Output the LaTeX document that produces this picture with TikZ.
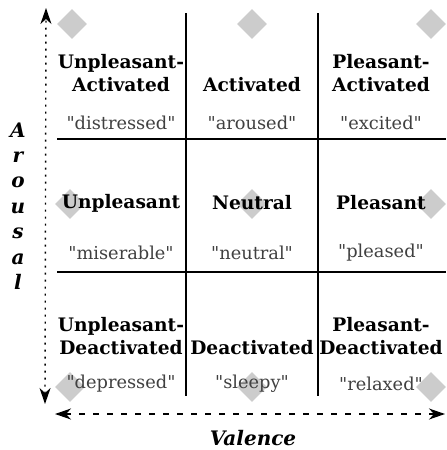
\documentclass[tikz,border=0pt]{standalone}
\usepackage{fontspec}
\setmainfont{DejaVu Serif}
\usepackage{tikz}
\usetikzlibrary{arrows.meta,shapes.geometric}
\newcommand\quoted[1]{\textquotedbl#1\textquotedbl}

\begin{document}
\begin{tikzpicture}[x=0.5pt,y=-0.5pt,>={Stealth[length=8pt,width=5.5pt,inset=2.5pt]},
  cat/.style={font=\fontsize{9.3}{11.8}\selectfont\bfseries,align=center,inner sep=0pt},
  word/.style={font=\fontsize{8.9}{10}\selectfont,text=black!75,inner sep=0pt},
  axis/.style={font=\fontsize{10}{12.7}\selectfont\bfseries\itshape,align=center,inner sep=0pt},
  dia/.style={diamond,fill=gray!40,inner sep=0pt,minimum width=15pt,minimum height=15pt},
  grid/.style={line width=0.9pt}]
  \useasboundingbox (0,0) rectangle (446,450);
  % grey markers behind the labels
  \node[dia] (d1) at (72,24) {};
  \node[dia] (d2) at (252,24) {};
  \node[dia] (d3) at (431,24) {};
  \node[dia] (d4) at (70,204) {};
  \node[dia] (d5) at (252,204) {};
  \node[dia] (d6) at (431,204) {};
  \node[dia] (d7) at (70,387) {};
  \node[dia] (d8) at (252,387) {};
  \node[dia] (d9) at (431,387) {};
  % the 3x3 grid
  \draw[grid] (186,13) -- (186,396);
  \draw[grid] (318,13) -- (318,396);
  \draw[grid] (57,139) -- (446,139);
  \draw[grid] (57,272) -- (446,272);
  % top row
  \node[cat] (ua) at (121,73) {Unpleasant-\\Activated};
  \node[word] (uaw) at (121,123) {\quoted{distressed}};
  \node[cat] (ac) at (252,85) {Activated};
  \node[word] (acw) at (252,123) {\quoted{aroused}};
  \node[cat] (pa) at (381,73) {Pleasant-\\Activated};
  \node[word] (paw) at (381,123) {\quoted{excited}};
  % middle row
  \node[cat] (un) at (121,203) {Unpleasant};
  \node[word] (unw) at (121,253) {\quoted{miserable}};
  \node[cat] (ne) at (252,203) {Neutral};
  \node[word] (new) at (252,253) {\quoted{neutral}};
  \node[cat] (pl) at (381,203) {Pleasant};
  \node[word] (plw) at (381,253) {\quoted{pleased}};
  % bottom row
  \node[cat] (ud) at (121,336) {Unpleasant-\\Deactivated};
  \node[word] (udw) at (121,384) {\quoted{depressed}};
  \node[cat] (de) at (252,348) {Deactivated};
  \node[word] (dew) at (252,384) {\quoted{sleepy}};
  \node[cat] (pd) at (381,336) {Pleasant-\\Deactivated};
  \node[word] (pdw) at (381,384) {\quoted{relaxed}};
  % axes
  \coordinate (ytop) at (46,8);
  \coordinate (ybot) at (45,404);
  \coordinate (xl) at (55,414);
  \coordinate (xr) at (445,414);
  \draw[<->,line width=0.7pt,dash pattern=on 1pt off 2.5pt] (ybot) -- (ytop);
  \draw[<->,line width=0.7pt,dash pattern=on 3pt off 4pt] (xl) -- (xr);
  \node[axis] (ar) at (18,206) {A\\r\\o\\u\\s\\a\\l};
  \node[axis] (va) at (253,438) {Valence};
\end{tikzpicture}
\end{document}
